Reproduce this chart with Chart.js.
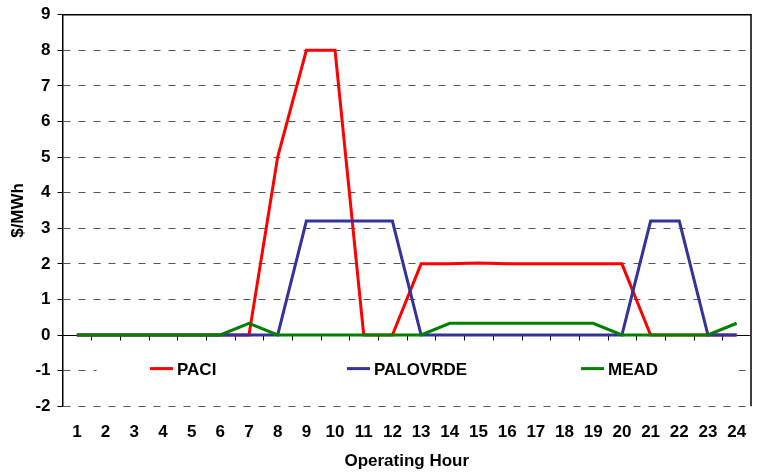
<!DOCTYPE html>
<html>
<head>
<meta charset="utf-8">
<script src="https://cdn.jsdelivr.net/npm/chart.js@4/dist/chart.umd.min.js"></script>
<style>
  html, body { margin: 0; padding: 0; background: #fff; }
  #wrap { width: 757px; height: 473px; }
</style>
</head>
<body>
<div id="wrap"><canvas id="myChart" width="757" height="473"></canvas></div>
<script>
var hours = ['1','2','3','4','5','6','7','8','9','10','11','12','13','14','15','16','17','18','19','20','21','22','23','24'];
var paci     = [0,0,0,0,0,0,0,5,8,8,0,0,2,2,2.02,2,2,2,2,2,0,0,0,0];
var palovrde = [0,0,0,0,0,0,0,0,3.2,3.2,3.2,3.2,0,0,0,0,0,0,0,0,3.2,3.2,0,0];
var mead     = [0,0,0,0,0,0,0.33,0,0,0,0,0,0,0.33,0.33,0.33,0.33,0.33,0.33,0,0,0,0,0.33];
var yTicks = [-2,-1,0,1,2,3,4,5,6,7,8,9];

var seriesNames = ['PACI', 'PALOVRDE', 'MEAD'];
var seriesColors = ['#ff0000', '#333399', '#008000'];
var FONT = '"Liberation Sans", Arial, sans-serif';

// zero line, frame and the in-plot legend
var decor = {
  id: 'decor',
  beforeDatasetsDraw: function(chart) {
    var ctx = chart.ctx, a = chart.chartArea;
    var x = chart.scales.x, y = chart.scales.y;
    var y0 = Math.round(y.getPixelForValue(0)) + 0.5;
    ctx.save();
    ctx.strokeStyle = '#000';
    ctx.lineWidth = 1;
    ctx.beginPath();
    ctx.moveTo(a.left, y0);
    ctx.lineTo(a.right, y0);
    for (var i = 0; i < hours.length - 1; i++) {
      var bx = Math.round((x.getPixelForValue(i) + x.getPixelForValue(i + 1)) / 2) + 0.5;
      ctx.moveTo(bx, y0);
      ctx.lineTo(bx, y0 + 5);
    }
    ctx.stroke();
    ctx.restore();
  },
  afterDatasetsDraw: function(chart) {
    var ctx = chart.ctx, a = chart.chartArea;
    var y = chart.scales.y;
    var ly = y.getPixelForValue(-1);
    ctx.save();
    ctx.fillStyle = '#fff';
    ctx.fillRect(a.left + 34, ly - 18, a.width - 46, 36);
    var starts = [150, 347, 581];
    ctx.font = 'bold 17px ' + FONT;
    ctx.textBaseline = 'middle';
    for (var i = 0; i < seriesNames.length; i++) {
      ctx.strokeStyle = seriesColors[i];
      ctx.lineWidth = 3;
      ctx.beginPath();
      ctx.moveTo(starts[i], ly - 2);
      ctx.lineTo(starts[i] + 23, ly - 2);
      ctx.stroke();
      ctx.fillStyle = '#000';
      ctx.fillText(seriesNames[i], starts[i] + 27, ly);
    }
    ctx.restore();
  },
  afterDraw: function(chart) {
    var ctx = chart.ctx, a = chart.chartArea;
    ctx.save();
    ctx.strokeStyle = '#000';
    ctx.lineWidth = 1.5;
    ctx.beginPath();
    ctx.moveTo(a.left, a.top);
    ctx.lineTo(a.right, a.top);
    ctx.lineTo(a.right, a.bottom);
    ctx.stroke();
    ctx.restore();
  }
};

new Chart('myChart', {
  type: 'line',
  data: {
    labels: hours,
    datasets: [{
      label: 'MEAD', data: mead, borderColor: seriesColors[2]
    }, {
      label: 'PALOVRDE', data: palovrde, borderColor: seriesColors[1]
    }, {
      label: 'PACI', data: paci, borderColor: seriesColors[0]
    }]
  },
  options: {
    responsive: false,
    animation: false,
    devicePixelRatio: 1,
    layout: { padding: { top: 0, right: 6, left: 8, bottom: 1 } },
    elements: {
      line: { borderWidth: 3, tension: 0, fill: false },
      point: { radius: 0 }
    },
    plugins: {
      legend: { display: false },
      tooltip: { enabled: false }
    },
    scales: {
      x: {
        offset: true,
        grid: { display: false, drawTicks: true, tickLength: 14 },
        border: { display: false },
        ticks: {
          color: '#000', padding: 2, maxRotation: 0, autoSkip: false,
          font: { family: FONT, size: 17, weight: 'bold' }
        },
        title: {
          display: true, text: 'Operating Hour', color: '#000',
          padding: { top: 7, bottom: 0 },
          font: { family: FONT, size: 17, weight: 'bold' }
        }
      },
      y: {
        min: -2, max: 9,
        afterBuildTicks: function(axis) {
          axis.ticks = yTicks.map(function(v) { return { value: v }; });
        },
        grid: {
          color: function(c) { return (c.tick && c.tick.value === 0) ? 'rgba(0,0,0,0)' : '#555'; },
          tickColor: '#000',
          tickLength: 5,
          lineWidth: 1
        },
        border: { display: true, color: '#000', width: 1.5, dash: [7, 8] },
        ticks: {
          color: '#000', padding: 7,
          font: { family: FONT, size: 17, weight: 'bold', lineHeight: 0.9 }
        },
        title: {
          display: true, text: '$/MWh', color: '#000',
          padding: { top: 0, bottom: 0 },
          font: { family: FONT, size: 17, weight: 'bold' }
        }
      }
    }
  },
  plugins: [decor]
});
</script>
</body>
</html>
